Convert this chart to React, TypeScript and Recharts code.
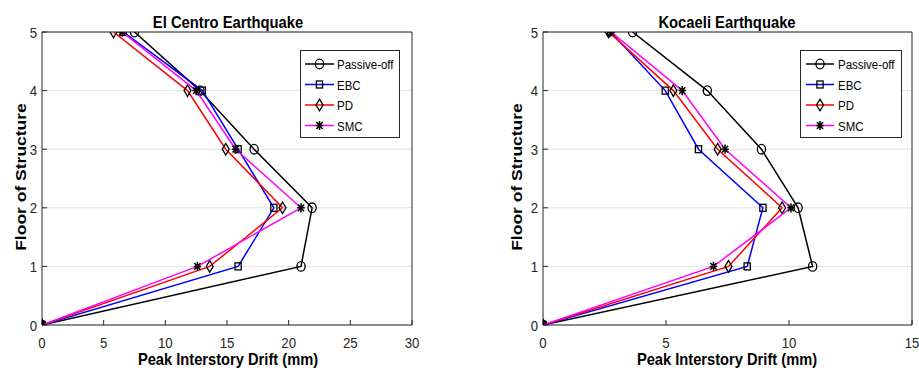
import React from 'react';
import { ScatterChart, Scatter, XAxis, YAxis, CartesianGrid } from 'recharts';

// ---- data ----
const floors = [0, 1, 2, 3, 4, 5];
const seriesNames = ['Passive-off', 'EBC', 'PD', 'SMC'];
const seriesColors = ['#000000', '#0000ff', '#ff0000', '#ff00ff'];
const seriesMarkers = ['circle', 'square', 'diamond', 'asterisk'];

const elCentroPassiveOff = [0, 21.0, 21.9, 17.2, 12.8, 7.5];
const elCentroEBC = [0, 15.9, 18.8, 15.9, 13.0, 6.6];
const elCentroPD = [0, 13.6, 19.5, 14.9, 11.8, 5.8];
const elCentroSMC = [0, 12.6, 21.0, 15.7, 12.5, 6.5];

const kocaeliPassiveOff = [0, 10.96, 10.37, 8.88, 6.68, 3.64];
const kocaeliEBC = [0, 8.3, 8.94, 6.32, 4.97, 2.75];
const kocaeliPD = [0, 7.54, 9.72, 7.1, 5.3, 2.67];
const kocaeliSMC = [0, 6.93, 10.08, 7.4, 5.66, 2.77];

const elCentroXTicks = [0, 5, 10, 15, 20, 25, 30];
const kocaeliXTicks = [0, 5, 10, 15];
const floorTicks = [0, 1, 2, 3, 4, 5];

const elCentroTitle = 'El Centro Earthquake';
const kocaeliTitle = 'Kocaeli Earthquake';
const xLabel = 'Peak Interstory Drift (mm)';
const yLabel = 'Floor of Structure';

const FONT = '"Liberation Sans", Arial, sans-serif';
const AXIS = '#262626';

const toPoints = (vals: number[]) => floors.map((f, i) => ({ floor: f, drift: vals[i] }));

function Marker({ kind, cx, cy }: { kind: string; cx: number; cy: number }) {
  const common = { fill: 'none', stroke: '#000', strokeWidth: 1.3 };
  if (cx == null || cy == null) return null;
  switch (kind) {
    case 'circle':
      return <ellipse cx={cx} cy={cy} rx={4.1} ry={4.8} {...common} />;
    case 'square':
      return <rect x={cx - 3.1} y={cy - 3.5} width={6.2} height={7} {...common} />;
    case 'diamond':
      return (
        <polygon
          points={`${cx},${cy - 5.8} ${cx + 3.5},${cy} ${cx},${cy + 5.8} ${cx - 3.5},${cy}`}
          {...common}
        />
      );
    default:
      return (
        <path
          d={`M${cx},${cy - 4.6}V${cy + 4.6}M${cx - 3.8},${cy}H${cx + 3.8}M${cx - 3.1},${cy - 3.4}L${cx + 3.1},${cy + 3.4}M${cx - 3.1},${cy + 3.4}L${cx + 3.1},${cy - 3.4}`}
          fill="none"
          stroke="#000"
          strokeWidth={1.5}
        />
      );
  }
}

const XTick = (props: any) => {
  const { x, y, payload } = props;
  return (
    <text
      transform={`translate(${x},${y + 11}) scale(0.88,1)`}
      textAnchor="middle"
      fontFamily={FONT}
      fontSize={15}
      fill={AXIS}
    >
      {payload.value}
    </text>
  );
};

const YTick = (props: any) => {
  const { x, y, payload } = props;
  return (
    <text
      transform={`translate(${x},${y + 5.5}) scale(0.88,1)`}
      textAnchor="end"
      fontFamily={FONT}
      fontSize={15}
      fill={AXIS}
    >
      {payload.value}
    </text>
  );
};

type PanelProps = {
  left: number;
  width: number;
  marginLeft: number;
  marginRight: number;
  xMax: number;
  xTicks: number[];
  values: number[][];
};

function Panel({ left, width, marginLeft, marginRight, xMax, xTicks, values }: PanelProps) {
  return (
    <div style={{ position: 'absolute', left, top: 0 }}>
      <ScatterChart
        width={width}
        height={382}
        margin={{ top: 31, right: marginRight, bottom: 27, left: marginLeft }}
      >
        <CartesianGrid xAxisId="b" yAxisId="l" vertical={false} stroke="#e2e2e2" strokeWidth={1} />
        <XAxis
          xAxisId="b"
          type="number"
          dataKey="drift"
          domain={[0, xMax]}
          allowDataOverflow
          ticks={xTicks}
          interval={0}
          orientation="bottom"
          height={30}
          tickSize={-5}
          tickMargin={17}
          stroke={AXIS}
          tick={<XTick />}
        />
        <XAxis
          xAxisId="t"
          type="number"
          dataKey="drift"
          domain={[0, xMax]}
          allowDataOverflow
          ticks={xTicks}
          interval={0}
          orientation="top"
          height={1}
          tickSize={-5}
          stroke={AXIS}
          tick={false}
        />
        <YAxis
          yAxisId="l"
          type="number"
          dataKey="floor"
          domain={[0, 5]}
          allowDataOverflow
          ticks={floorTicks}
          interval={0}
          width={30}
          tickSize={-5}
          tickMargin={10}
          stroke={AXIS}
          tick={<YTick />}
        />
        <YAxis
          yAxisId="r"
          type="number"
          dataKey="floor"
          orientation="right"
          domain={[0, 5]}
          allowDataOverflow
          ticks={floorTicks}
          interval={0}
          width={1}
          tickSize={-5}
          stroke={AXIS}
          tick={false}
        />
        {values.map((vals, i) => (
          <Scatter
            key={seriesNames[i]}
            name={seriesNames[i]}
            xAxisId="b"
            yAxisId="l"
            data={toPoints(vals)}
            fill={seriesColors[i]}
            line={{ stroke: seriesColors[i], strokeWidth: 1.5 }}
            lineType="joint"
            shape={(p: any) => <Marker kind={seriesMarkers[i]} cx={p.cx} cy={p.cy} />}
            isAnimationActive={false}
          />
        ))}
      </ScatterChart>
    </div>
  );
}

function LegendBox({ x, y, w, h, lineX0, lineX1, textX }: any) {
  const rows = [64, 84.5, 105, 125.5];
  return (
    <g>
      <rect x={x} y={y} width={w} height={h} fill="#fff" stroke={AXIS} strokeWidth={1} />
      {seriesNames.map((n, i) => (
        <g key={n}>
          <line x1={lineX0} x2={lineX1} y1={rows[i]} y2={rows[i]} stroke={seriesColors[i]} strokeWidth={1.5} />
          <Marker kind={seriesMarkers[i]} cx={(lineX0 + lineX1) / 2} cy={rows[i]} />
          <text
            transform={`translate(${textX},${rows[i] + 5}) scale(0.85,1)`}
            fontFamily={FONT}
            fontSize={13.5}
            fill="#000"
          >
            {n}
          </text>
        </g>
      ))}
    </g>
  );
}

function Texts({ cx, ylx, title }: { cx: number; ylx: number; title: string }) {
  return (
    <g fontFamily={FONT} fontWeight="bold" fill="#000">
      <text transform={`translate(${cx},28) scale(0.87,1)`} textAnchor="middle" fontSize={17}>
        {title}
      </text>
      <text transform={`translate(${cx},365) scale(0.89,1)`} textAnchor="middle" fontSize={16.5}>
        {xLabel}
      </text>
      <text transform={`translate(${ylx},177) rotate(-90) scale(1,0.88)`} textAnchor="middle" fontSize={17.5}>
        {yLabel}
      </text>
    </g>
  );
}

export default function App() {
  return (
    <div style={{ position: 'absolute', left: 0, top: 0, width: 919, height: 382, background: '#fff' }}>
      <Panel
        left={0}
        width={459}
        marginLeft={12}
        marginRight={46}
        xMax={30}
        xTicks={elCentroXTicks}
        values={[elCentroPassiveOff, elCentroEBC, elCentroPD, elCentroSMC]}
      />
      <Panel
        left={459}
        width={460}
        marginLeft={54}
        marginRight={6}
        xMax={15}
        xTicks={kocaeliXTicks}
        values={[kocaeliPassiveOff, kocaeliEBC, kocaeliPD, kocaeliSMC]}
      />
      <svg
        width={919}
        height={382}
        style={{ position: 'absolute', left: 0, top: 0, pointerEvents: 'none' }}
      >
        <Texts cx={228} ylx={25.5} title={elCentroTitle} />
        <Texts cx={727} ylx={522} title={kocaeliTitle} />
        <LegendBox x={300.5} y={50.5} w={99} h={87} lineX0={305} lineX1={334} textX={337} />
        <LegendBox x={800.5} y={50.5} w={101} h={87} lineX0={806} lineX1={834} textX={838} />
      </svg>
    </div>
  );
}
